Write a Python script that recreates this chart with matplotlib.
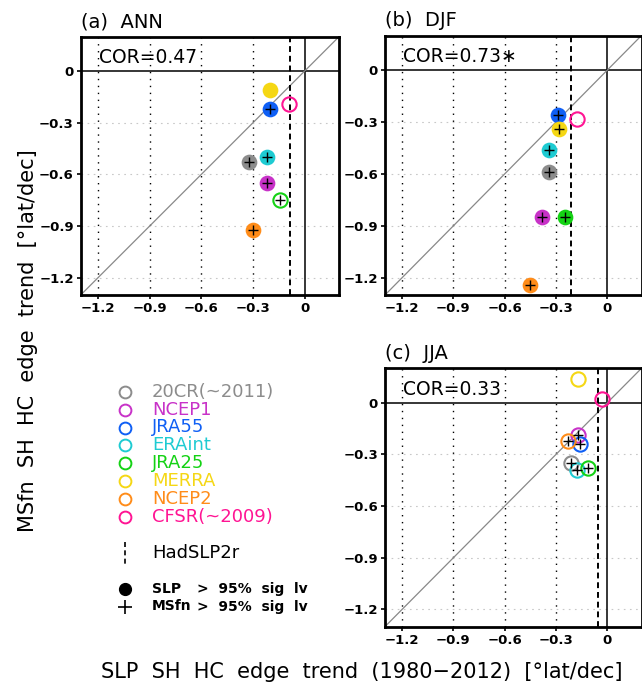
# SH Hadley cell edge trends: SLP-based vs MSfn-based, 1980-2012
import matplotlib
matplotlib.use('Agg')
import matplotlib.pyplot as plt

# Reanalyses
names  = ['20CR(~2011)', 'NCEP1', 'JRA55', 'ERAint', 'JRA25', 'MERRA', 'NCEP2', 'CFSR(~2009)']
colors = ['#8c8c8c', '#c832c8', '#0f5ff5', '#1ecbd2', '#14d214', '#f5d714', '#ff8c19', '#ff1493']

# ANN
ann_slp  = [-0.32, -0.22, -0.20, -0.22, -0.14, -0.20, -0.30, -0.09]
ann_msf  = [-0.53, -0.65, -0.22, -0.50, -0.75, -0.11, -0.92, -0.19]
ann_sig1 = [1, 1, 1, 1, 0, 1, 1, 0]   # SLP > 95%
ann_sig2 = [1, 1, 1, 1, 1, 0, 1, 0]   # MSfn > 95%
ann_had  = -0.085
ann_cor  = 'COR=0.47'

# DJF
djf_slp  = [-0.34, -0.38, -0.29, -0.34, -0.25, -0.28, -0.45, -0.18]
djf_msf  = [-0.59, -0.85, -0.26, -0.46, -0.85, -0.34, -1.24, -0.28]
djf_sig1 = [1, 1, 1, 1, 1, 1, 1, 0]
djf_sig2 = [1, 1, 1, 1, 1, 1, 1, 0]
djf_had  = -0.21
djf_cor  = 'COR=0.73\u2217'

# JJA
jja_slp  = [-0.21, -0.17, -0.16, -0.18, -0.11, -0.17, -0.23, -0.03]
jja_msf  = [-0.35, -0.19, -0.24, -0.39, -0.38, 0.14, -0.22, 0.02]
jja_sig1 = [0, 0, 0, 0, 0, 0, 0, 0]
jja_sig2 = [1, 1, 1, 1, 1, 0, 1, 0]
jja_had  = -0.055
jja_cor  = 'COR=0.33'

ticks  = [-1.2, -0.9, -0.6, -0.3, 0]
tlabs  = ['\u22121.2', '\u22120.9', '\u22120.6', '\u22120.3', '0']
lims   = (-1.3, 0.2)

W, H = 642, 683
fig = plt.figure(figsize=(W/100, H/100), dpi=100)

def box(l, t, w, h):
    return [l/W, 1-(t+h)/H, w/W, h/H]

def panel(ax, title, cor, xs, ys, s1, s2, had):
    ax.set_xlim(lims)
    ax.set_ylim(lims)
    # grid
    for t in ticks[:-1]:
        ax.axhline(t, color='#c8c8c8', lw=0.8, ls=(0, (1.5, 4)), zorder=0)
        ax.axvline(t, color='k', lw=1.0, ls=(0, (1, 4)), zorder=1)
    ax.axhline(0, color='k', lw=1.1, zorder=1)
    ax.axvline(0, color='k', lw=1.1, zorder=1)
    ax.plot(lims, lims, color='#888888', lw=0.9, zorder=1)
    ax.axvline(had, color='k', lw=1.4, ls=(0, (3, 2)), zorder=2)
    # points
    for i in range(len(xs)):
        if s1[i]:
            ax.plot(xs[i], ys[i], 'o', ms=11.3, mfc=colors[i], mec='none', zorder=3)
        else:
            ax.plot(xs[i], ys[i], 'o', ms=10.3, mfc='none', mec=colors[i], mew=1.5, zorder=3)
        if s2[i]:
            ax.plot(xs[i], ys[i], '+', ms=7, mew=1.0, color='k', zorder=4)
    ax.set_xticks(ticks)
    ax.set_yticks(ticks)
    ax.set_xticklabels(tlabs, fontsize=9.5, fontweight='bold')
    ax.set_yticklabels(tlabs, fontsize=9.5, fontweight='bold')
    ax.tick_params(length=3, width=1.2, pad=2)
    for s in ax.spines.values():
        s.set_linewidth(2.0)
    ax.text(0, 1.035, title, transform=ax.transAxes, fontsize=14, va='baseline', ha='left')
    ax.text(0.072, 0.898, cor, transform=ax.transAxes, fontsize=13.5, va='baseline', ha='left')

ax_a = fig.add_axes(box(80.7, 36.7, 258.3, 258.3))
ax_b = fig.add_axes(box(385, 35.5, 256.5, 259.5))
ax_c = fig.add_axes(box(385, 368.3, 256.5, 258.3))

panel(ax_a, '(a)  ANN', ann_cor, ann_slp, ann_msf, ann_sig1, ann_sig2, ann_had)
panel(ax_b, '(b)  DJF', djf_cor, djf_slp, djf_msf, djf_sig1, djf_sig2, djf_had)
panel(ax_c, '(c)  JJA', jja_cor, jja_slp, jja_msf, jja_sig1, jja_sig2, jja_had)

# Legend (pixel coords)
lg = fig.add_axes([0, 0, 1, 1], zorder=-1)
lg.set_xlim(0, W)
lg.set_ylim(H, 0)
lg.axis('off')
for i in range(len(names)):
    y = 391.7 + i*17.9
    lg.plot(125, y, 'o', ms=8.5, mfc='none', mec=colors[i], mew=1.4)
    lg.text(152, y, names[i], color=colors[i], fontsize=13, va='center', ha='left')
lg.plot([125, 125], [542, 566], color='k', lw=1.2, ls=(0, (3, 2)))
lg.text(152, 553, 'HadSLP2r', fontsize=13, va='center', ha='left')
lg.plot(125, 589, 'o', ms=8.5, color='k')
lg.plot(125, 606.5, '+', ms=10, mew=1.2, color='k')
lg.text(152, 589, 'SLP', fontsize=10, fontweight='bold', va='center', ha='left')
lg.text(152, 606.5, 'MSfn', fontsize=10, fontweight='bold', va='center', ha='left')
lg.text(197, 589, '>  95%  sig  lv', fontsize=10, fontweight='bold', va='center', ha='left')
lg.text(197, 606.5, '>  95%  sig  lv', fontsize=10, fontweight='bold', va='center', ha='left')

# Axis titles
fig.text(28/W, 1-341/H, 'MSfn  SH  HC  edge  trend  [\u00b0lat/dec]', rotation=90,
         fontsize=15, va='center', ha='center')
fig.text(362/W, 1-672/H, 'SLP  SH  HC  edge  trend  (1980\u22122012)  [\u00b0lat/dec]',
         fontsize=15, va='center', ha='center')

plt.savefig('out.png', dpi=100)
